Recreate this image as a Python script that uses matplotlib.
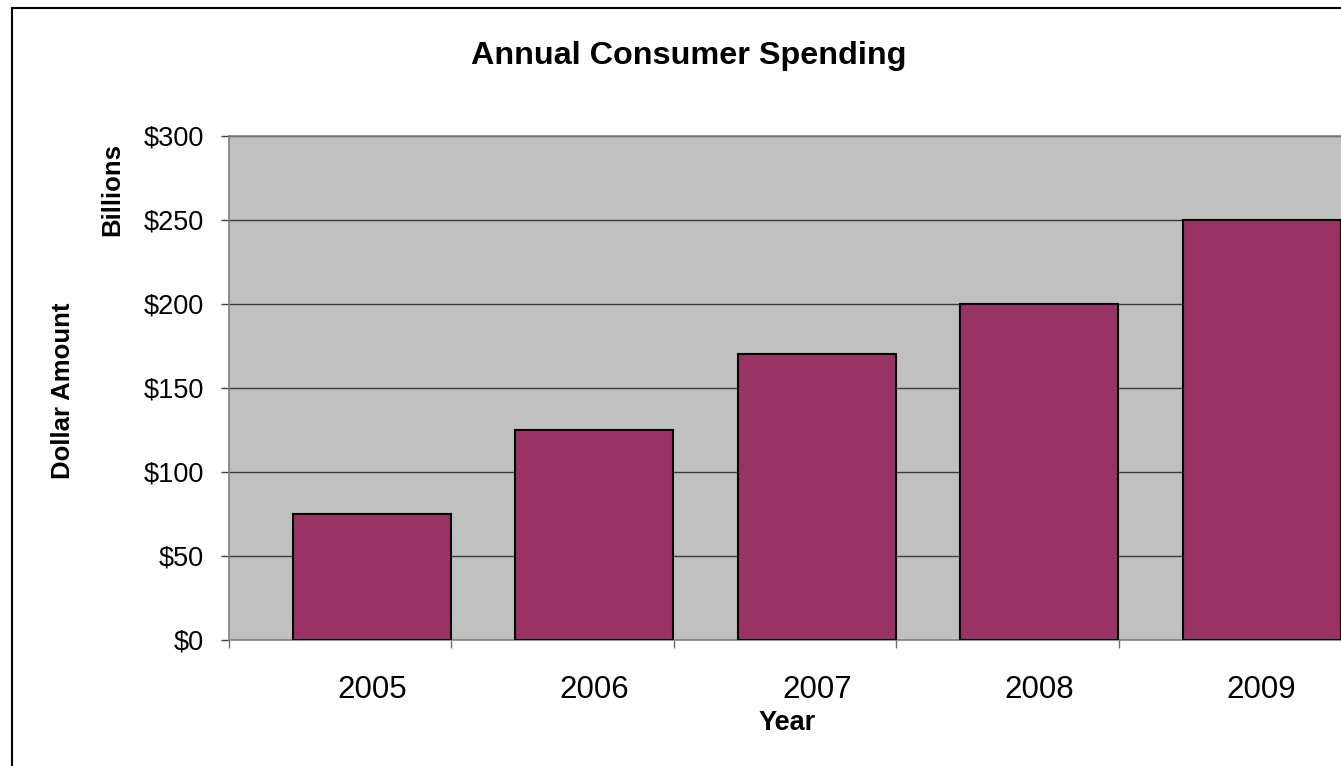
import numpy as np
import matplotlib.pyplot as plt
from matplotlib.patches import Rectangle

plt.rcParams['font.family'] = ['Liberation Sans', 'DejaVu Sans']

# 数据
years = ['2005', '2006', '2007', '2008', '2009']
spending = [75, 125, 170, 200, 250]  # billions
y_ticks = [0, 50, 100, 150, 200, 250, 300]

W, H = 1341, 766
fig = plt.figure(figsize=(W / 100, H / 100), dpi=100)

# 外框
fig.patches.append(Rectangle((12 / W, -0.1), 1.2, 1 - 8 / H + 0.1,
                             transform=fig.transFigure, fill=False,
                             edgecolor='black', linewidth=1.5, zorder=0))

ax = fig.add_axes([229 / W, 1 - 640 / H, 1112 / W, 504 / H])
ax.set_facecolor('#C0C0C0')

x = np.arange(len(years))
bar_w = 0.71
ax.bar(x, spending, width=bar_w, color='#993366', edgecolor='black',
       linewidth=1.5, zorder=3)

ax.set_ylim(0, 300)
ax.set_xlim(-bar_w / 2 - 0.288, len(years) - 1 + bar_w / 2 + 0.002)

ax.set_yticks(y_ticks)
ax.set_yticklabels(['$%d' % v for v in y_ticks], fontsize=19.5)
ax.yaxis.grid(True, color='#3a3a3a', linewidth=1, zorder=1)
ax.set_axisbelow(True)

ax.set_xticks(x)
ax.set_xticklabels(years, fontsize=22.5)
ax.set_xticks(ax.get_xlim()[0] + np.arange(len(years)), minor=True)
ax.tick_params(axis='x', which='major', length=0, pad=25)
ax.tick_params(axis='x', which='minor', length=8 * 0.72, color='#707070',
               width=1)
ax.tick_params(axis='y', length=8 * 0.72, color='#404040', width=1, pad=12)

for s in ['left', 'bottom', 'top']:
    ax.spines[s].set_color('#808080')
    ax.spines[s].set_linewidth(1.2)
ax.spines['right'].set_visible(False)

fig.text(689 / W, 1 - 56 / H, 'Annual Consumer Spending', fontsize=23.3,
         fontweight='bold', ha='center', va='center')
fig.text(787 / W, 1 - 723 / H, 'Year', fontsize=19.5, fontweight='bold',
         ha='center', va='center')
fig.text(63 / W, 1 - 391 / H, 'Dollar Amount', fontsize=18.5,
         fontweight='bold', rotation=90, ha='center', va='center')
fig.text(112 / W, 1 - 189 / H, 'Billions', fontsize=18.5,
         fontweight='bold', rotation=90, ha='center', va='center')

plt.savefig('out.png', dpi=100)
